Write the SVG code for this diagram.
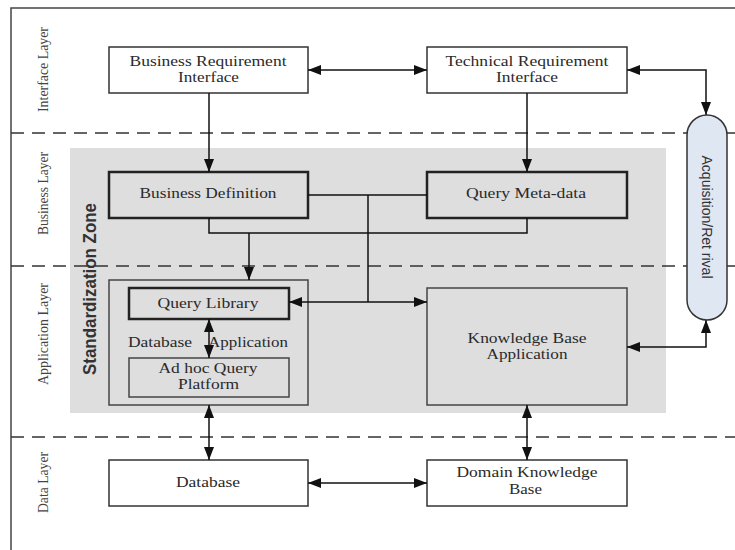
<svg xmlns="http://www.w3.org/2000/svg" width="735" height="550" viewBox="0 0 735 550">
<defs>
<marker id="ah" markerUnits="userSpaceOnUse" markerWidth="13" markerHeight="10" viewBox="0 0 13 10" refX="13" refY="5" orient="auto-start-reverse">
<path d="M0,0 L13,5 L0,10 z" fill="#111"/>
</marker>
<style>
.t{font-family:"Liberation Serif","Times New Roman",serif;font-size:15px;fill:#2a2a2a;text-anchor:middle}
.lay{font-family:"Liberation Serif","Times New Roman",serif;font-size:14.5px;fill:#444;text-anchor:middle}
.box{fill:#fff;stroke:#333;stroke-width:1.5}
.gbox{fill:#dedede;stroke:#222;stroke-width:2.5}
.gbox2{fill:#dedede;stroke:#444;stroke-width:1.5}
.dash{stroke:#333;stroke-width:1.3;stroke-dasharray:13 8;fill:none}
.c{stroke:#111;stroke-width:1.5;fill:none}
.a{stroke:#111;stroke-width:1.5;fill:none;marker-end:url(#ah)}
.aa{stroke:#111;stroke-width:1.5;fill:none;marker-end:url(#ah);marker-start:url(#ah)}
</style>
</defs>
<rect width="735" height="550" fill="#fff"/>
<g id="frame">
<path d="M11,550 V8 H735" fill="none" stroke="#444" stroke-width="1.5"/>
</g>
<g id="zone">
<rect x="70" y="148" width="596" height="265" fill="#dedede"/>
<text transform="translate(96,289) rotate(-90)" font-family="Liberation Sans, Arial, sans-serif" font-weight="bold" font-size="18" fill="#333" text-anchor="middle" textLength="172" lengthAdjust="spacingAndGlyphs">Standardization Zone</text>
</g>
<g id="layers">
<path class="dash" d="M11,133 H735"/>
<path class="dash" d="M11,266 H735"/>
<path class="dash" d="M11,437 H735"/>
<text class="lay" transform="translate(48,69.5) rotate(-90)" textLength="85" lengthAdjust="spacingAndGlyphs">Interface Layer</text>
<text class="lay" transform="translate(48,193.5) rotate(-90)" textLength="83" lengthAdjust="spacingAndGlyphs">Business Layer</text>
<text class="lay" transform="translate(48,334) rotate(-90)" textLength="102" lengthAdjust="spacingAndGlyphs">Application Layer</text>
<text class="lay" transform="translate(48,482.5) rotate(-90)" textLength="61" lengthAdjust="spacingAndGlyphs">Data Layer</text>
</g>
<g id="bri">
<rect class="box" x="109" y="47" width="199" height="46"/>
<text class="t" x="208" y="66" textLength="157" lengthAdjust="spacingAndGlyphs">Business Requirement</text>
<text class="t" x="208.5" y="82" textLength="61" lengthAdjust="spacingAndGlyphs">Interface</text>
</g>
<g id="tri">
<rect class="box" x="427" y="47" width="200" height="46"/>
<text class="t" x="527" y="66" textLength="163" lengthAdjust="spacingAndGlyphs">Technical Requirement</text>
<text class="t" x="527" y="82" textLength="62" lengthAdjust="spacingAndGlyphs">Interface</text>
</g>
<g id="bd">
<rect class="gbox" x="109" y="172" width="199" height="46"/>
<text class="t" x="208" y="198" textLength="137" lengthAdjust="spacingAndGlyphs">Business Definition</text>
</g>
<g id="qm">
<rect class="gbox" x="427" y="172" width="200" height="46"/>
<text class="t" x="526" y="198" textLength="120" lengthAdjust="spacingAndGlyphs">Query Meta-data</text>
</g>
<g id="dbapp">
<rect class="gbox2" x="109" y="280" width="199" height="125"/>
<text class="t" y="347"><tspan x="160" textLength="64" lengthAdjust="spacingAndGlyphs">Database</tspan><tspan x="248" textLength="80" lengthAdjust="spacingAndGlyphs">Application</tspan></text>
</g>
<g id="ql">
<rect class="gbox" x="129" y="288" width="160" height="31"/>
<text class="t" x="208" y="308" textLength="101" lengthAdjust="spacingAndGlyphs">Query Library</text>
</g>
<g id="adhoc">
<rect class="gbox2" x="129" y="358" width="160" height="39"/>
<text class="t" x="208" y="373" textLength="99" lengthAdjust="spacingAndGlyphs">Ad hoc Query</text>
<text class="t" x="208.5" y="389" textLength="61" lengthAdjust="spacingAndGlyphs">Platform</text>
</g>
<g id="kba">
<rect class="gbox2" x="427" y="288" width="200" height="117"/>
<text class="t" x="527" y="343" textLength="119" lengthAdjust="spacingAndGlyphs">Knowledge Base</text>
<text class="t" x="527" y="359" textLength="81" lengthAdjust="spacingAndGlyphs">Application</text>
</g>
<g id="db">
<rect class="box" x="109" y="460" width="199" height="46"/>
<text class="t" x="208" y="487" textLength="64" lengthAdjust="spacingAndGlyphs">Database</text>
</g>
<g id="dkb">
<rect class="box" x="427" y="460" width="200" height="46"/>
<text class="t" x="527" y="477" textLength="141" lengthAdjust="spacingAndGlyphs">Domain Knowledge</text>
<text class="t" x="525.5" y="494" textLength="33" lengthAdjust="spacingAndGlyphs">Base</text>
</g>
<g id="connectors">
<path class="aa" d="M308,70 H427"/>
<path class="aa" d="M627,70 H706 V115"/>
<path class="a" d="M209,93 V172"/>
<path class="a" d="M527,93 V172"/>
<path class="c" d="M308,195 H368 M427,195 H368 M368,195 V302"/>
<path class="a" d="M368,302 H289"/>
<path class="a" d="M368,302 H427"/>
<path class="c" d="M209,218 V233 H527 V218"/>
<path class="a" d="M249,233 V280"/>
<path class="aa" d="M209,319 V358"/>
<path class="aa" d="M209,405 V460"/>
<path class="aa" d="M527,405 V460"/>
<path class="aa" d="M308,483 H427"/>
<path class="aa" d="M627,347 H706 V320"/>
</g>
<g id="acq">
<rect x="687" y="115" width="40" height="205" rx="20" ry="20" fill="#dfe7f3" stroke="#333" stroke-width="1.5"/>
<text transform="translate(702,217) rotate(90)" font-family="Liberation Sans, Arial, sans-serif" font-size="14" fill="#333" text-anchor="middle" textLength="123" lengthAdjust="spacingAndGlyphs">Acquisition/Ret rival</text>
</g>
</svg>
